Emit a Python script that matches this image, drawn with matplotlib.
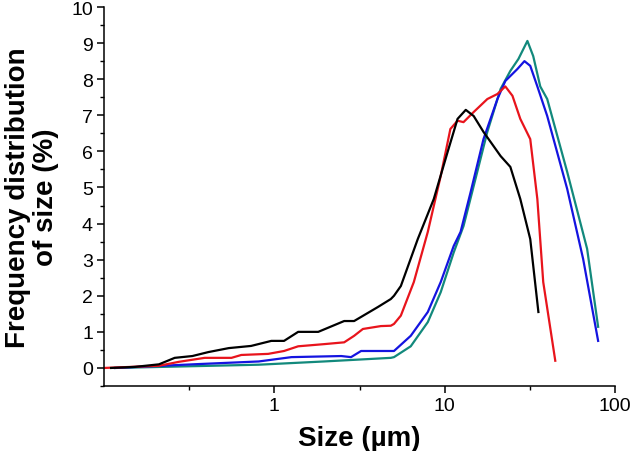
import numpy as np
import matplotlib
matplotlib.use("Agg")
import matplotlib.pyplot as plt
from matplotlib.ticker import FixedLocator, NullFormatter

plt.rcParams["font.family"] = ["Liberation Sans", "DejaVu Sans"]

# Size (um) and frequency (%)
black_x = [0.11, 0.152, 0.21, 0.26, 0.33, 0.41, 0.54, 0.73, 0.96, 1.14, 1.38, 1.81,
           2.57, 2.94, 4.06, 4.83, 5.04, 5.53, 6.95, 8.63, 10.4, 11.9, 13.3, 14.8,
           16.9, 21.3, 24.3, 27.8, 31.8, 35.5]
black_y = [0.0, 0.03, 0.1, 0.28, 0.33, 0.44, 0.55, 0.61, 0.75, 0.75, 1.0, 1.0,
           1.3, 1.3, 1.69, 1.91, 2.0, 2.27, 3.57, 4.68, 5.98, 6.9, 7.15, 6.98,
           6.54, 5.87, 5.57, 4.68, 3.57, 1.55]

red_x = [0.1, 0.21, 0.275, 0.39, 0.56, 0.64, 0.92, 1.14, 1.38, 1.96, 2.57, 2.94,
         3.31, 4.22, 4.83, 5.04, 5.53, 6.59, 7.96, 9.48, 10.8, 11.9, 12.9, 14.8,
         17.8, 20.4, 22.7, 25.0, 27.8, 31.8, 35.0, 37.9, 44.6]
red_y = [0.0, 0.06, 0.17, 0.28, 0.28, 0.36, 0.39, 0.47, 0.6, 0.66, 0.71, 0.89,
         1.08, 1.16, 1.17, 1.22, 1.45, 2.38, 3.77, 5.32, 6.62, 6.85, 6.81, 7.09,
         7.45, 7.59, 7.8, 7.54, 6.9, 6.34, 4.68, 2.38, 0.2]

blue_x = [0.116, 0.33, 0.81, 1.26, 2.47, 2.82, 3.23, 4.83, 5.04, 6.32, 7.96, 9.48,
          11.3, 12.4, 14.2, 16.9, 20.4, 22.7, 26.7, 29.4, 31.8, 35.0, 40.0, 52.4,
          65.0, 79.6]
blue_y = [0.0, 0.1, 0.18, 0.3, 0.33, 0.3, 0.47, 0.47, 0.47, 0.89, 1.55, 2.38,
          3.38, 3.77, 4.87, 6.34, 7.45, 7.95, 8.28, 8.5, 8.37, 7.8, 6.98, 4.96,
          3.02, 0.75]

teal_x = [0.116, 0.81, 1.96, 4.83, 5.04, 6.32, 7.96, 9.48, 11.3, 12.9, 14.8, 17.8,
          21.3, 24.3, 27.1, 30.6, 33.1, 36.4, 40.0, 52.4, 68.6, 79.6]
teal_y = [0.0, 0.09, 0.18, 0.28, 0.3, 0.6, 1.27, 2.1, 3.2, 3.93, 5.04, 6.54,
          7.73, 8.23, 8.56, 9.06, 8.64, 7.8, 7.45, 5.43, 3.3, 1.14]

series = [
    (teal_x, teal_y, "#12897c"),
    (blue_x, blue_y, "#1414e0"),
    (red_x, red_y, "#e8141c"),
    (black_x, black_y, "#000000"),
]

fig = plt.figure(figsize=(6.32, 4.52), dpi=100)
ax = fig.add_axes([0.1646, 0.1438, 0.8085, 0.8385])

for xs, ys, color in series:
    ax.plot(xs, ys, color=color, lw=1.6)

ax.set_xscale("log")
ax.set_xlim(0.1, 100)
ax.set_ylim(-0.5, 10)

ax.xaxis.set_major_locator(FixedLocator([1, 10, 100]))
ax.set_xticklabels(["1", "10", "100"])
ax.xaxis.set_minor_locator(FixedLocator([10 ** -0.5, 10 ** 0.5, 10 ** 1.5]))
ax.xaxis.set_minor_formatter(NullFormatter())
ax.yaxis.set_major_locator(FixedLocator(range(0, 11)))
ax.yaxis.set_minor_locator(FixedLocator(np.arange(-0.5, 10, 1.0)))

for side in ["top", "right"]:
    ax.spines[side].set_visible(False)
for side in ["left", "bottom"]:
    ax.spines[side].set_linewidth(1.1)

ax.tick_params(which="major", direction="out", length=5, width=1.1, labelsize=14, pad=3)
ax.tick_params(which="minor", direction="out", length=3, width=1.0)

ax.set_xlabel("Size (µm)", fontsize=20, fontweight="bold", labelpad=8)
ax.set_ylabel("Frequency distribution\nof size (%)", fontsize=20, fontweight="bold",
              labelpad=9, linespacing=1.1)

fig.savefig("out.png", dpi=100)
